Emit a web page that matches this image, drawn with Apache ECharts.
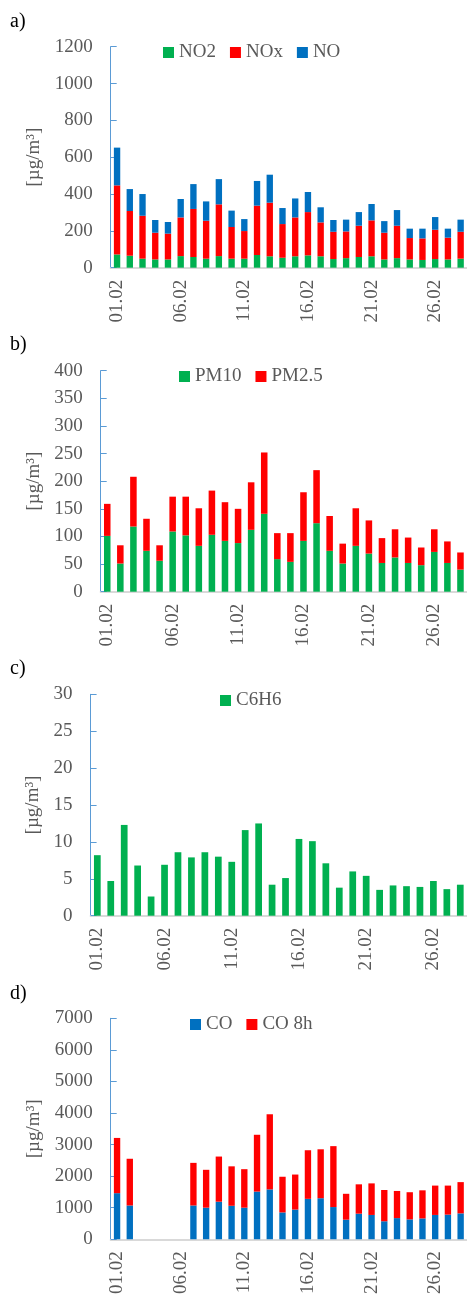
<!DOCTYPE html>
<html>
<head>
<meta charset="utf-8">
<script src="https://cdn.jsdelivr.net/npm/echarts@6/dist/echarts.min.js"></script>
<style>
html,body{margin:0;padding:0;background:#fff;}
#chart{width:467px;height:1297px;}
</style>
</head>
<body>
<div id="chart"></div>
<script>
var categories = ["01.02","02.02","03.02","04.02","05.02","06.02","07.02","08.02","09.02","10.02","11.02","12.02","13.02","14.02","15.02","16.02","17.02","18.02","19.02","20.02","21.02","22.02","23.02","24.02","25.02","26.02","27.02","28.02"];

// panel a (stacked segments)
var no2 = [72,65,49,45,45,63,58,49,63,49,49,69,62,54,62,67,62,47,52,58,62,45,52,45,42,47,45,49];
var nox = [375,243,233,145,140,210,261,206,281,172,150,268,291,183,211,235,184,148,145,170,195,145,176,116,117,159,118,146];
var no  = [205,119,118,69,63,100,135,105,137,89,65,134,152,87,103,109,82,64,64,74,89,63,85,51,53,69,49,66];

// panel b (stacked segments)
var pm10 = [101,51,118,74,56,109,102,83,103,92,88,112,141,59,54,92,124,74,51,83,69,52,62,52,48,72,52,40];
var pm25 = [58,33,90,58,28,63,70,68,80,70,62,86,111,47,52,88,96,63,36,68,60,45,51,46,32,41,39,31];

// panel c
var c6h6 = [8.2,4.7,12.3,6.8,2.6,6.9,8.6,7.9,8.6,8.0,7.3,11.6,12.5,4.2,5.1,10.4,10.1,7.1,3.8,6.0,5.4,3.5,4.1,4.0,3.9,4.7,3.6,4.2];

// panel d (stacked segments)
var co   = [1460,1070,null,null,null,null,1070,1000,1190,1060,1000,1510,1580,850,940,1280,1300,1020,620,810,770,570,670,630,660,770,780,820];
var co8h = [1750,1480,null,null,null,null,1350,1200,1430,1250,1220,1800,2380,1130,1110,1540,1550,1930,820,930,1000,990,860,860,890,930,920,990];

// axis ranges
var yMax = [1200, 400, 30, 7000];
var yInt = [200, 50, 5, 1000];
var panelLabels = ["a)", "b)", "c)", "d)"];

var GREEN = '#00B050', RED = '#FF0000', BLUE = '#0070C0';
var FONT = "'Liberation Serif', 'Times New Roman', serif";
var GREY = '#595959';

var grids = [
  {left:110.7, top:46.7, width:357.8, height:221},
  {left:100.7, top:370.7, width:367.6, height:221},
  {left:90.6,  top:694.3, width:378,   height:221.4},
  {left:110.7, top:1018.3, width:357.8, height:221}
];
var nameGaps = [51, 43, 32, 52];

var xAxes = grids.map(function(g, i){
  return {
    type:'category', gridIndex:i, data:categories,
    axisLine:{show:true, lineStyle:{color:'#D9D9D9', width:2}},
    axisTick:{show:false},
    axisLabel:{rotate:90, interval:4, margin:12, fontFamily:FONT, fontSize:19, color:GREY}
  };
});
var yAxes = grids.map(function(g, i){
  return {
    type:'value', gridIndex:i, min:0, max:yMax[i], interval:yInt[i],
    name:'[µg/m³]', nameLocation:'middle', nameGap:nameGaps[i], nameRotate:90,
    nameTextStyle:{fontFamily:FONT, fontSize:19, color:GREY},
    axisLine:{show:true, lineStyle:{color:'#5B9BD5', width:1}},
    axisTick:{show:true, inside:true, length:6, lineStyle:{color:'#5B9BD5'}},
    splitLine:{show:false},
    axisLabel:{margin:18, fontFamily:FONT, fontSize:19, color:GREY,
      formatter:function(v){ return String(v); }}
  };
});

function bar(name, data, idx, stack, color){
  return {name:name, type:'bar', data:data, xAxisIndex:idx, yAxisIndex:idx,
    stack:stack, barWidth:'50%', itemStyle:{color:color}, animation:false};
}

var legendBase = {icon:'rect', itemWidth:11, itemHeight:11, itemGap:14, orient:'horizontal',
  textStyle:{fontFamily:FONT, fontSize:19, color:GREY}, selectedMode:false};

var option = {
  animation:false,
  grid:grids,
  xAxis:xAxes,
  yAxis:yAxes,
  legend:[
    Object.assign({}, legendBase, {left:158, top:38, data:['NO2','NOx','NO']}),
    Object.assign({}, legendBase, {left:174, top:362, data:['PM10','PM2.5']}),
    Object.assign({}, legendBase, {left:215, top:686, data:['C6H6']}),
    Object.assign({}, legendBase, {left:185, top:1010, data:['CO','CO 8h']})
  ],
  graphic: panelLabels.map(function(t, i){
    var tops = [12, 335, 659, 984];
    return {type:'text', left:10, top:tops[i], style:{text:t, font:'20px ' + FONT, fill:'#000'}};
  }),
  series:[
    bar('NO2', no2, 0, 'a', GREEN),
    bar('NOx', nox, 0, 'a', RED),
    bar('NO', no, 0, 'a', BLUE),
    bar('PM10', pm10, 1, 'b', GREEN),
    bar('PM2.5', pm25, 1, 'b', RED),
    bar('C6H6', c6h6, 2, 'c', GREEN),
    bar('CO', co, 3, 'd', BLUE),
    bar('CO 8h', co8h, 3, 'd', RED)
  ]
};

var chart = echarts.init(document.getElementById('chart'), null, {renderer:'canvas'});
chart.setOption(option);
</script>
</body>
</html>
